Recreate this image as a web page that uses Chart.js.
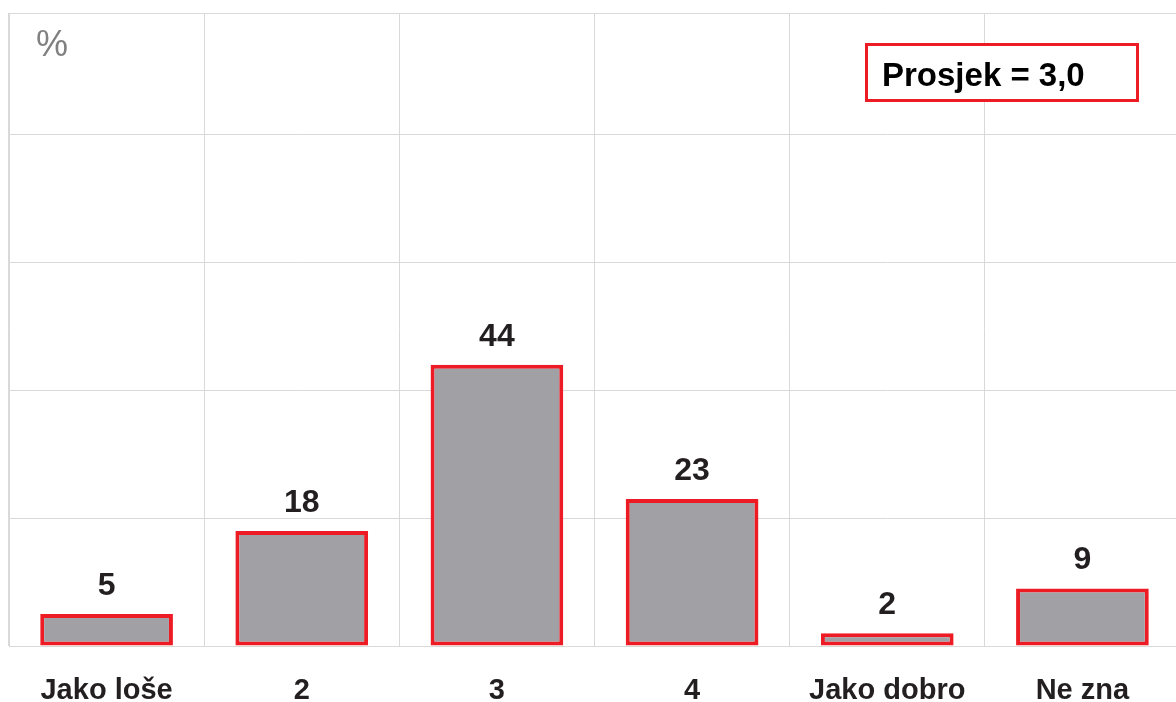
<!DOCTYPE html>
<html lang="hr">
<head>
  <meta charset="UTF-8" />
  <title>Ocjena</title>
  <style>
    html, body { margin: 0; padding: 0; background: #fff; overflow: hidden; }
    .chart-box { width: 1180px; height: 702px; }
  </style>
</head>
<body>
  <div class="chart-box">
    <canvas id="ocjene"></canvas>
  </div>

  <script src="https://cdn.jsdelivr.net/npm/chart.js"></script>
  <script>
    const kategorije = ["Jako loše", "2", "3", "4", "Jako dobro", "Ne zna"];
    const postoci = [5, 18, 44, 23, 2, 9];
    const prosjek = "Prosjek = 3,0";

    const crvena = "#ed1c24";
    const siva = "#a1a0a5";
    const tekst = "#231f20";
    const font = "'Liberation Sans', Arial, sans-serif";

    // brojke iznad stupaca + oznaka % + okvir s prosjekom
    const natpisi = {
      id: "natpisi",
      afterDatasetsDraw(chart) {
        const ctx = chart.ctx;
        const meta = chart.getDatasetMeta(0);
        ctx.save();
        ctx.fillStyle = tekst;
        ctx.font = "bold 32px " + font;
        ctx.textAlign = "center";
        ctx.textBaseline = "alphabetic";
        meta.data.forEach((bar, i) => {
          ctx.fillText(String(postoci[i]), bar.x, bar.y - 19);
        });

        ctx.textAlign = "left";
        ctx.fillStyle = "#808080";
        ctx.font = "36px " + font;
        ctx.fillText("%", 36, 56);

        ctx.strokeStyle = crvena;
        ctx.lineWidth = 3;
        ctx.fillStyle = "#fff";
        ctx.fillRect(866, 44, 272, 57);
        ctx.strokeRect(866.5, 44.5, 271, 56);
        ctx.fillStyle = "#000";
        ctx.font = "bold 33px " + font;
        ctx.fillText(prosjek, 882, 86);
        ctx.restore();
      }
    };

    new Chart(document.getElementById("ocjene"), {
      type: "bar",
      data: {
        labels: kategorije,
        datasets: [{
          data: postoci,
          backgroundColor: siva,
          borderColor: crvena,
          borderWidth: 4,
          borderSkipped: false,
          categoryPercentage: 1,
          barPercentage: 0.68
        }]
      },
      options: {
        responsive: true,
        maintainAspectRatio: false,
        animation: false,
        layout: { padding: { left: 9, top: 13, right: 0, bottom: 0 } },
        plugins: {
          legend: { display: false },
          tooltip: { enabled: false }
        },
        scales: {
          x: {
            grid: { color: "#d9d9d9", lineWidth: 1, drawTicks: false },
            border: { color: "#d9d9d9" },
            ticks: {
              color: tekst,
              font: { family: font, size: 29, weight: "bold" },
              padding: 28,
              maxRotation: 0
            },
            afterFit: (s) => { s.height = 56; }
          },
          y: {
            min: 0,
            max: 99,
            grid: { color: "#d9d9d9", lineWidth: 1, drawTicks: false },
            border: { color: "#d9d9d9" },
            ticks: { display: false, stepSize: 20 },
            afterFit: (s) => { s.width = 0; }
          }
        }
      },
      plugins: [natpisi]
    });
  </script>
</body>
</html>
